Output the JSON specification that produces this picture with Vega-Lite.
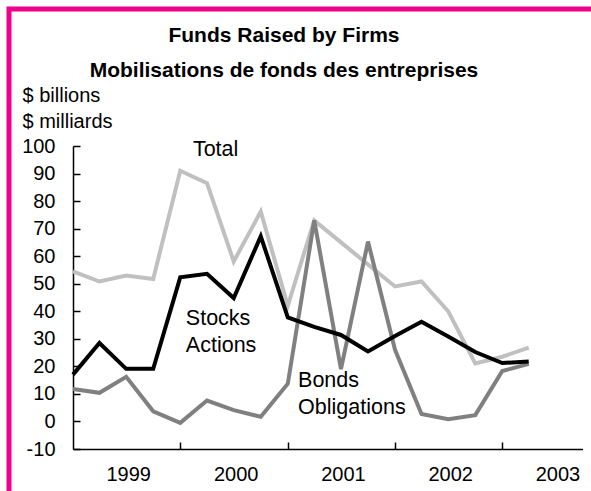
{
  "$schema": "https://vega.github.io/schema/vega-lite/v6.json",
  "width": 582,
  "height": 482,
  "autosize": {"type": "none"},
  "padding": {"left": 9, "top": 9, "right": 0, "bottom": 0},
  "background": "white",
  "title": {
    "text": ["Funds Raised by Firms", "Mobilisations de fonds des entreprises"],
    "font": "Liberation Sans",
    "fontSize": 21,
    "fontWeight": "bold",
    "color": "black",
    "lineHeight": 35,
    "anchor": "middle",
    "dx": -16,
    "offset": -72
  },
  "data": {
    "values": [
      {"date": "1999-01-01", "Total": 54.5, "Stocks": 17.0, "Bonds": 11.8},
      {"date": "1999-04-01", "Total": 50.8, "Stocks": 28.5, "Bonds": 10.4},
      {"date": "1999-07-01", "Total": 53.0, "Stocks": 19.1, "Bonds": 16.2},
      {"date": "1999-10-01", "Total": 51.7, "Stocks": 19.1, "Bonds": 3.7},
      {"date": "2000-01-01", "Total": 91.0, "Stocks": 52.3, "Bonds": -0.5},
      {"date": "2000-04-01", "Total": 86.5, "Stocks": 53.6, "Bonds": 7.6},
      {"date": "2000-07-01", "Total": 58.1, "Stocks": 44.8, "Bonds": 4.1},
      {"date": "2000-10-01", "Total": 76.2, "Stocks": 67.2, "Bonds": 1.7},
      {"date": "2001-01-01", "Total": 42.0, "Stocks": 37.8, "Bonds": 13.7},
      {"date": "2001-04-01", "Total": 73.0, "Stocks": 34.3, "Bonds": 73.0},
      {"date": "2001-07-01", "Total": 65.0, "Stocks": 31.4, "Bonds": 19.0},
      {"date": "2001-10-01", "Total": 57.0, "Stocks": 25.4, "Bonds": 65.3},
      {"date": "2002-01-01", "Total": 49.0, "Stocks": 31.0, "Bonds": 26.0},
      {"date": "2002-04-01", "Total": 50.8, "Stocks": 36.2, "Bonds": 2.7},
      {"date": "2002-07-01", "Total": 40.0, "Stocks": 30.8, "Bonds": 0.8},
      {"date": "2002-10-01", "Total": 21.1, "Stocks": 25.2, "Bonds": 2.3},
      {"date": "2003-01-01", "Total": 23.5, "Stocks": 21.2, "Bonds": 18.3},
      {"date": "2003-04-01", "Total": 26.8, "Stocks": 21.8, "Bonds": 20.9}
    ]
  },
  "encoding": {
    "x": {
      "field": "date",
      "type": "temporal",
      "scale": {
        "type": "utc",
        "domain": [
          {"year": 1999, "month": 1, "date": 1, "utc": true},
          {"year": 2003, "month": 10, "date": 1, "utc": true}
        ],
        "range": [64, 573.5],
        "nice": false
      },
      "axis": {
        "orient": "bottom",
        "offset": -42,
        "title": null,
        "values": [
          {"year": 1999, "month": 7, "date": 1, "utc": true},
          {"year": 2000, "month": 1, "date": 1, "utc": true},
          {"year": 2000, "month": 7, "date": 1, "utc": true},
          {"year": 2001, "month": 1, "date": 1, "utc": true},
          {"year": 2001, "month": 7, "date": 1, "utc": true},
          {"year": 2002, "month": 1, "date": 1, "utc": true},
          {"year": 2002, "month": 7, "date": 1, "utc": true},
          {"year": 2003, "month": 1, "date": 1, "utc": true},
          {"year": 2003, "month": 7, "date": 1, "utc": true}
        ],
        "labelExpr": "utcmonth(datum.value) === 6 ? utcFormat(datum.value, '%Y') : ''",
        "tickOpacity": {"condition": {"test": "utcmonth(datum.value) === 0", "value": 1}, "value": 0},
        "labelOverlap": false,
        "labelFlush": false,
        "labelBaseline": "top",
        "labelPadding": 22,
        "labelOffset": 2
      }
    }
  },
  "layer": [
    {
      "mark": {"type": "line", "color": "#C0C0C0", "strokeWidth": 4, "strokeJoin": "miter"},
      "encoding": {
        "y": {"field": "Total", "type": "quantitative", "title": ["$ billions", "$ milliards"],
          "scale": {"domain": [-10, 100], "range": [440, 137], "nice": false, "zero": false},
          "axis": {"labelExpr": "'' + datum.value"}}
      }
    },
    {
      "mark": {"type": "line", "color": "#808080", "strokeWidth": 4, "strokeJoin": "miter"},
      "encoding": {
        "y": {"field": "Bonds", "type": "quantitative", "title": ["$ billions", "$ milliards"],
          "scale": {"domain": [-10, 100], "range": [440, 137], "nice": false, "zero": false},
          "axis": {"labelExpr": "'' + datum.value"}}
      }
    },
    {
      "mark": {"type": "line", "color": "#000000", "strokeWidth": 4, "strokeJoin": "miter"},
      "encoding": {
        "y": {"field": "Stocks", "type": "quantitative", "title": ["$ billions", "$ milliards"],
          "scale": {"domain": [-10, 100], "range": [440, 137], "nice": false, "zero": false},
          "axis": {"labelExpr": "'' + datum.value"}}
      }
    },
    {
      "data": {
        "values": [
          {"label": "Total", "date": "2000-02-13", "value": 98.7},
          {"label": "Stocks", "date": "2000-01-20", "value": 37.2},
          {"label": "Actions", "date": "2000-01-20", "value": 27.4},
          {"label": "Bonds", "date": "2001-02-05", "value": 14.7},
          {"label": "Obligations", "date": "2001-02-05", "value": 4.9}
        ]
      },
      "mark": {"type": "text", "align": "left", "baseline": "middle", "font": "Liberation Sans", "fontSize": 21.5, "color": "black"},
      "encoding": {
        "y": {"field": "value", "type": "quantitative", "title": ["$ billions", "$ milliards"],
          "scale": {"domain": [-10, 100], "range": [440, 137], "nice": false, "zero": false},
          "axis": {"labelExpr": "'' + datum.value"}},
        "text": {"field": "label"}
      }
    }
  ],
  "config": {
    "font": "Liberation Sans",
    "view": {"stroke": "#EC008C", "strokeWidth": 5, "strokeDash": [582, 1064, 482]},
    "axis": {
      "grid": false,
      "labelFont": "Liberation Sans",
      "labelFontSize": 20,
      "labelColor": "black",
      "domainColor": "black",
      "domainWidth": 1.5,
      "tickColor": "black",
      "tickWidth": 1.5,
      "tickSize": -7
    },
    "axisY": {
      "offset": -64,
      "tickCount": 11,
      "labelPadding": 25,
      "titleAngle": 0,
      "titleAlign": "left",
      "titleBaseline": "alphabetic",
      "titleX": -51,
      "titleY": 92,
      "titleFont": "Liberation Sans",
      "titleFontSize": 20,
      "titleFontWeight": "normal",
      "titleColor": "black",
      "titleLineHeight": 26
    }
  }
}
